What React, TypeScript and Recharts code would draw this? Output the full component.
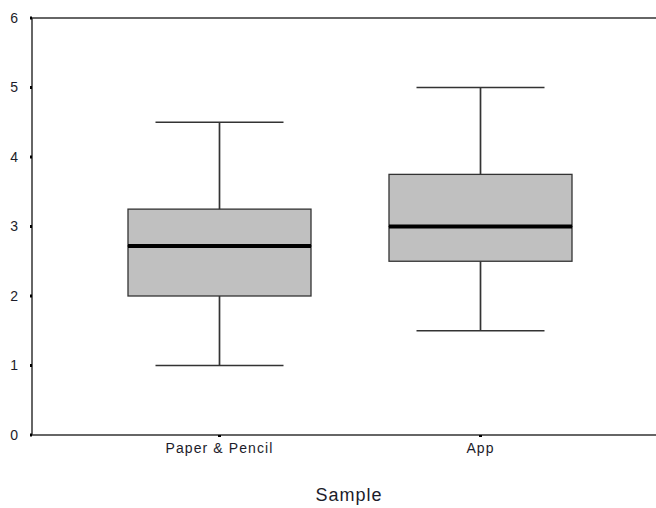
import React from 'react';
import { ComposedChart, Bar, XAxis, YAxis, ReferenceLine } from 'recharts';

const categories = ['Paper & Pencil', 'App'];
const minValues = [1.0, 1.5];
const q1Values = [2.0, 2.5];
const medianValues = [2.72, 3.0];
const q3Values = [3.25, 3.75];
const maxValues = [4.5, 5.0];
const yTicks = [0, 1, 2, 3, 4, 5, 6];

const data = categories.map((name, i) => ({
  name,
  base: minValues[i],
  lowWhisker: q1Values[i] - minValues[i],
  lowBox: medianValues[i] - q1Values[i],
  highBox: q3Values[i] - medianValues[i],
  highWhisker: maxValues[i] - q3Values[i],
}));

const LINE = '#333';
const CAP = 128;
const FONT = 'Liberation Sans, Arial, sans-serif';

const LowWhisker = (props: any) => {
  const { x, y, width, height } = props;
  const cx = x + width / 2;
  return (
    <g>
      <line x1={cx} x2={cx} y1={y} y2={y + height} stroke={LINE} strokeWidth={1.7} />
      <line x1={cx - CAP / 2} x2={cx + CAP / 2} y1={y + height} y2={y + height} stroke={LINE} strokeWidth={1.7} />
    </g>
  );
};

const HighWhisker = (props: any) => {
  const { x, y, width, height } = props;
  const cx = x + width / 2;
  return (
    <g>
      <line x1={cx} x2={cx} y1={y} y2={y + height} stroke={LINE} strokeWidth={1.7} />
      <line x1={cx - CAP / 2} x2={cx + CAP / 2} y1={y} y2={y} stroke={LINE} strokeWidth={1.7} />
    </g>
  );
};

const BoxPart = (props: any) => {
  const { x, y, width, height } = props;
  return <rect x={x} y={y} width={width} height={height} fill="#c0c0c0" stroke={LINE} strokeWidth={1.3} />;
};

const LowBox = (props: any) => (
  <g>
    <BoxPart {...props} />
  </g>
);

const HighBox = (props: any) => {
  const { x, y, width, height } = props;
  return (
    <g>
      <BoxPart {...props} />
      <line x1={x} x2={x + width} y1={y + height} y2={y + height} stroke="#000" strokeWidth={4} />
    </g>
  );
};

const tickStyle = { fontFamily: FONT, fontSize: 14, fill: '#1c1c2a', letterSpacing: 1.1 };

export default function App() {
  return (
    <div style={{ position: 'absolute', left: 0, top: 0, background: '#fff' }}>
      <ComposedChart
        width={656}
        height={508}
        data={data}
        margin={{ top: 18, right: 0, bottom: 43, left: 0 }}
        barSize={183}
      >
        <XAxis
          dataKey="name"
          padding={{ left: 57, right: 45 }}
          tick={tickStyle}
          tickSize={2}
          tickMargin={6}
          tickLine={{ stroke: '#000', strokeWidth: 3 }}
          axisLine={{ stroke: LINE, strokeWidth: 1.5 }}
          height={30}
          label={{
            value: 'Sample',
            position: 'insideBottom',
            offset: -36,
            dx: 5,
            style: { fontFamily: FONT, fontSize: 18, fill: '#1c1c2a', letterSpacing: 1 },
          }}
        />
        <YAxis
          domain={[0, 6]}
          ticks={yTicks}
          width={32}
          tick={{ ...tickStyle, letterSpacing: 0 }}
          tickSize={2}
          tickMargin={12}
          tickLine={{ stroke: '#000', strokeWidth: 3 }}
          axisLine={{ stroke: LINE, strokeWidth: 1.5 }}
        />
        <ReferenceLine y={6} stroke={LINE} strokeWidth={1.5} />
        <Bar dataKey="base" stackId="box" fill="none" isAnimationActive={false} />
        <Bar dataKey="lowWhisker" stackId="box" shape={<LowWhisker />} isAnimationActive={false} />
        <Bar dataKey="lowBox" stackId="box" shape={<LowBox />} isAnimationActive={false} />
        <Bar dataKey="highBox" stackId="box" shape={<HighBox />} isAnimationActive={false} />
        <Bar dataKey="highWhisker" stackId="box" shape={<HighWhisker />} isAnimationActive={false} />
      </ComposedChart>
    </div>
  );
}
